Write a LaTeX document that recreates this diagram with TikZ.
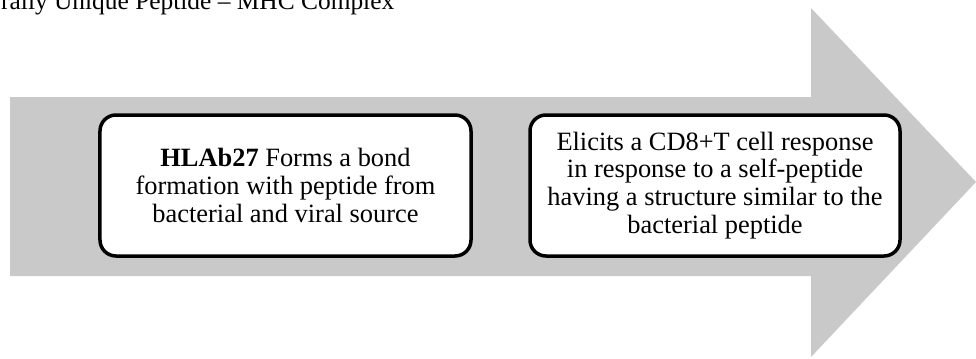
\documentclass[tikz,border=0pt]{standalone}
\usepackage{fontspec}
\setmainfont{Liberation Serif}
\definecolor{arrowgray}{RGB}{201,201,201}
\tikzset{
  stepbox/.style={draw=black, fill=white, line width=3.5bp, rounded corners=16bp,
    align=center, inner sep=0pt, font=\fontsize{26.5}{28}\selectfont},
  titletext/.style={anchor=base west, inner sep=0pt, font=\fontsize{25.5}{28}\selectfont}
}
\begin{document}
\begin{tikzpicture}[x=1bp,y=-1bp]
\useasboundingbox (0,0) rectangle (976,358);
\clip (0,0) rectangle (976,358);
\fill[arrowgray] (10,97) -- (811,97) -- (811,8) -- (976,182) -- (811,357) -- (811,276) -- (10,276) -- cycle;
\node[titletext] (title) at (1,9) {rally Unique Peptide – MHC Complex};
\node[stepbox, minimum width=371bp, minimum height=141bp] (b1) at (285.5,185.5)
  {\textbf{HLAb27} Forms a bond\\formation with peptide from\\bacterial and viral source};
\node[stepbox, minimum width=370bp, minimum height=141bp] (b2) at (715,185.5)
  {Elicits a CD8+T cell response\\in response to a self-peptide\\having a structure similar to the\\bacterial peptide};
\end{tikzpicture}
\end{document}
